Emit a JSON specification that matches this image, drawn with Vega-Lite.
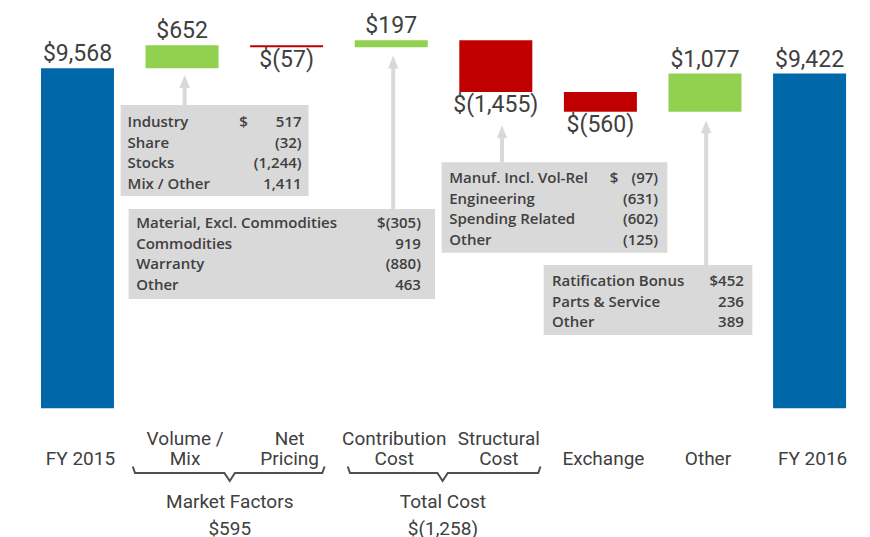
{
  "$schema": "https://vega.github.io/schema/vega-lite/v6.json",
  "width": 870,
  "height": 537,
  "padding": 0,
  "autosize": {"type": "none"},
  "background": "white",
  "config": {"view": {"stroke": null}},
  "datasets": {
    "steps": [
      {"pos": 0, "start": 0, "end": 9568, "kind": "total", "label": "$9,568", "l1": "", "l2": "FY 2015"},
      {"pos": 1, "start": 9568, "end": 10220, "kind": "increase", "label": "$652", "l1": "Volume /", "l2": "Mix"},
      {"pos": 2, "start": 10220, "end": 10163, "kind": "decrease", "label": "$(57)", "l1": "Net", "l2": "Pricing"},
      {"pos": 3, "start": 10163, "end": 10360, "kind": "increase", "label": "$197", "l1": "Contribution", "l2": "Cost"},
      {"pos": 4, "start": 10360, "end": 8905, "kind": "decrease", "label": "$(1,455)", "l1": "Structural", "l2": "Cost"},
      {"pos": 5, "start": 8905, "end": 8345, "kind": "decrease", "label": "$(560)", "l1": "", "l2": "Exchange"},
      {"pos": 6, "start": 8345, "end": 9422, "kind": "increase", "label": "$1,077", "l1": "", "l2": "Other"},
      {"pos": 7, "start": 0, "end": 9422, "kind": "total", "label": "$9,422", "l1": "", "l2": "FY 2016"}
    ],
    "groups": [
      {"center": 1.456, "name": "Market Factors", "total": "$595"},
      {"center": 3.494, "name": "Total Cost", "total": "$(1,258)"}
    ],
    "brackets": [
      {"g": "m", "o": 1, "x": 0.529, "y": -1638},
      {"g": "m", "o": 2, "x": 0.550, "y": -1821},
      {"g": "m", "o": 3, "x": 1.405, "y": -1821},
      {"g": "m", "o": 4, "x": 1.456, "y": -2046},
      {"g": "m", "o": 5, "x": 1.505, "y": -1821},
      {"g": "m", "o": 6, "x": 2.341, "y": -1821},
      {"g": "m", "o": 7, "x": 2.363, "y": -1638},
      {"g": "t", "o": 1, "x": 2.584, "y": -1638},
      {"g": "t", "o": 2, "x": 2.606, "y": -1821},
      {"g": "t", "o": 3, "x": 3.442, "y": -1821},
      {"g": "t", "o": 4, "x": 3.491, "y": -2046},
      {"g": "t", "o": 5, "x": 3.541, "y": -1821},
      {"g": "t", "o": 6, "x": 4.406, "y": -1821},
      {"g": "t", "o": 7, "x": 4.427, "y": -1638}
    ],
    "boxes": [
      {"box": "A", "x0": 0.413, "x1": 2.209, "y0": 8536, "y1": 5975, "tx": 0.479, "ty": 7914, "sx": 1.547, "vx": 2.143,
       "labels": "Industry\nShare\nStocks\nMix / Other", "dollar": "$", "values": "517\u2007\n(32)\n(1,244)\n1,411\u2007",
       "ax": 1.025, "ab": 8536, "at": 9198},
      {"box": "B", "x0": 0.489, "x1": 3.419, "y0": 5609, "y1": 3076, "tx": 0.561, "ty": 5066, "sx": 3.0, "vx": 3.284,
       "labels": "Material, Excl. Commodities\nCommodities\nWarranty\nOther", "dollar": "", "values": "$(305)\n919\u2007\n(880)\n463\u2007",
       "ax": 3.019, "ab": 5609, "at": 9747},
      {"box": "C", "x0": 3.482, "x1": 5.640, "y0": 6924, "y1": 4379, "tx": 3.554, "ty": 6333, "sx": 5.089, "vx": 5.552,
       "labels": "Manuf. Incl. Vol-Rel\nEngineering\nSpending Related\nOther", "dollar": "$", "values": "(97)\n(631)\n(602)\n(125)",
       "ax": 4.059, "ab": 6924, "at": 7785},
      {"box": "D", "x0": 4.458, "x1": 6.453, "y0": 4033, "y1": 2063, "tx": 4.537, "ty": 3442, "sx": 6.0, "vx": 6.371,
       "labels": "Ratification Bonus\nParts & Service\nOther", "dollar": "", "values": "$452\n236\n389",
       "ax": 6.011, "ab": 4033, "at": 7926}
    ]
  },
  "layer": [
    {
      "mark": {"type": "rule", "color": "#595959", "strokeWidth": 1.5},
      "encoding": {
        "x": {"datum": -0.579, "type": "quantitative", "scale": {"domain": [-0.693, 7.53], "nice": false, "zero": false}, "axis": null},
        "x2": {"datum": 7.53},
        "y": {"datum": 0, "type": "quantitative", "scale": {"domain": [-3622, 11492], "nice": false, "zero": false}, "axis": null}
      }
    },
    {
      "data": {"name": "steps"},
      "mark": {"type": "bar", "width": 73},
      "encoding": {
        "x": {"field": "pos", "type": "quantitative"},
        "y": {"field": "start", "type": "quantitative"},
        "y2": {"field": "end"},
        "color": {"field": "kind", "type": "nominal", "legend": null,
          "scale": {"domain": ["total", "increase", "decrease"], "range": ["#0068a9", "#92d050", "#c00000"]}}
      }
    },
    {
      "data": {"name": "steps"},
      "transform": [{"filter": "datum.kind != 'decrease'"}],
      "mark": {"type": "text", "font": "Roboto", "fontSize": 23, "color": "#404040", "baseline": "alphabetic", "align": "center", "dy": -7},
      "encoding": {
        "x": {"field": "pos", "type": "quantitative"},
        "y": {"field": "end", "type": "quantitative"},
        "text": {"field": "label"}
      }
    },
    {
      "data": {"name": "steps"},
      "transform": [{"filter": "datum.kind == 'decrease'"}],
      "mark": {"type": "text", "font": "Roboto", "fontSize": 23, "color": "#404040", "baseline": "alphabetic", "align": "center", "dy": 20},
      "encoding": {
        "x": {"field": "pos", "type": "quantitative"},
        "y": {"field": "end", "type": "quantitative"},
        "text": {"field": "label"}
      }
    },
    {
      "data": {"name": "steps"},
      "mark": {"type": "text", "font": "Roboto", "fontSize": 19, "color": "#404040", "baseline": "alphabetic", "align": "center", "dx": 3},
      "encoding": {
        "x": {"field": "pos", "type": "quantitative"},
        "y": {"datum": -1033},
        "text": {"field": "l1"}
      }
    },
    {
      "data": {"name": "steps"},
      "mark": {"type": "text", "font": "Roboto", "fontSize": 19, "color": "#404040", "baseline": "alphabetic", "align": "center", "dx": 3},
      "encoding": {
        "x": {"field": "pos", "type": "quantitative"},
        "y": {"datum": -1596},
        "text": {"field": "l2"}
      }
    },
    {
      "data": {"name": "brackets"},
      "mark": {"type": "line", "color": "#505050", "strokeWidth": 2, "interpolate": "linear"},
      "encoding": {
        "x": {"field": "x", "type": "quantitative"},
        "y": {"field": "y", "type": "quantitative"},
        "detail": {"field": "g"},
        "order": {"field": "o"}
      }
    },
    {
      "data": {"name": "groups"},
      "mark": {"type": "text", "font": "Roboto", "fontSize": 19, "color": "#404040", "baseline": "alphabetic", "align": "center"},
      "encoding": {
        "x": {"field": "center", "type": "quantitative"},
        "y": {"datum": -2806},
        "text": {"field": "name"}
      }
    },
    {
      "data": {"name": "groups"},
      "mark": {"type": "text", "font": "Roboto", "fontSize": 19, "color": "#404040", "baseline": "alphabetic", "align": "center"},
      "encoding": {
        "x": {"field": "center", "type": "quantitative"},
        "y": {"datum": -3566},
        "text": {"field": "total"}
      }
    },
    {
      "data": {"name": "boxes"},
      "mark": {"type": "rect", "color": "#d9d9d9"},
      "encoding": {
        "x": {"field": "x0", "type": "quantitative"},
        "x2": {"field": "x1"},
        "y": {"field": "y0", "type": "quantitative"},
        "y2": {"field": "y1"}
      }
    },
    {
      "data": {"name": "boxes"},
      "mark": {"type": "rule", "color": "#d9d9d9", "strokeWidth": 4},
      "encoding": {
        "x": {"field": "ax", "type": "quantitative"},
        "y": {"field": "ab", "type": "quantitative"},
        "y2": {"field": "at"}
      }
    },
    {
      "data": {"name": "boxes"},
      "mark": {"type": "point", "shape": "M-0.8,1L0,-1L0.8,1Z", "size": 169, "filled": true, "color": "#d9d9d9", "opacity": 1, "strokeWidth": 0},
      "encoding": {
        "x": {"field": "ax", "type": "quantitative"},
        "y": {"field": "at", "type": "quantitative"}
      }
    },
    {
      "data": {"name": "boxes"},
      "mark": {"type": "text", "font": "Open Sans", "fontWeight": 600, "fontSize": 15, "color": "#404040", "baseline": "alphabetic", "align": "left", "lineBreak": "\n", "lineHeight": 20.5},
      "encoding": {
        "x": {"field": "tx", "type": "quantitative"},
        "y": {"field": "ty", "type": "quantitative"},
        "text": {"field": "labels"}
      }
    },
    {
      "data": {"name": "boxes"},
      "mark": {"type": "text", "font": "Open Sans", "fontWeight": 600, "fontSize": 15, "color": "#404040", "baseline": "alphabetic", "align": "left"},
      "encoding": {
        "x": {"field": "sx", "type": "quantitative"},
        "y": {"field": "ty", "type": "quantitative"},
        "text": {"field": "dollar"}
      }
    },
    {
      "data": {"name": "boxes"},
      "mark": {"type": "text", "font": "Open Sans", "fontWeight": 600, "fontSize": 15, "color": "#404040", "baseline": "alphabetic", "align": "right", "lineBreak": "\n", "lineHeight": 20.5},
      "encoding": {
        "x": {"field": "vx", "type": "quantitative"},
        "y": {"field": "ty", "type": "quantitative"},
        "text": {"field": "values"}
      }
    }
  ]
}
